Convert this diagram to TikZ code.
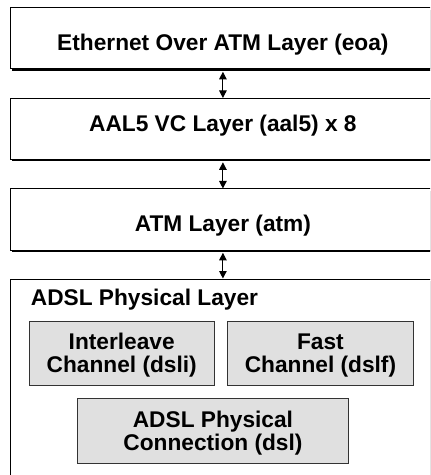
\documentclass[tikz,border=0pt]{standalone}
\usepackage{fontspec}
\setmainfont{Liberation Sans}
\usetikzlibrary{shadows,arrows.meta}
\definecolor{chanfill}{HTML}{E0E0E0}
\definecolor{chanedge}{HTML}{333333}
\begin{document}
\begin{tikzpicture}[x=1bp,y=-1bp,
  every node/.style={font=\fontsize{22.7bp}{23.4bp}\selectfont\bfseries},
  layer/.style={draw=black, line width=0.8bp, fill=white,
    minimum width=426bp, minimum height=61bp, anchor=north west,
    inner sep=0pt, text depth=0pt,
    drop shadow={shadow xshift=2bp, shadow yshift=-2bp, opacity=1, fill=black}},
  channel/.style={draw=chanedge, line width=0.9bp, fill=chanfill,
    anchor=north west, inner sep=0pt, align=center,
    text height=39.7bp, text depth=0pt},
  link/.style={{Triangle[length=7.5bp,width=7.5bp]}-{Triangle[length=7.5bp,width=7.5bp]},
    line width=1bp}
]
\useasboundingbox (0,0) rectangle (430,475);
\clip (0,0) rectangle (430,475);

% protocol stack layers
\node[layer, text height=23.5bp] (eoa) at (9.5,7.5) {Ethernet Over ATM Layer (eoa)};
\node[layer, text height=4.5bp] (aal5) at (9.5,98) {AAL5 VC Layer (aal5) x 8};
\node[layer, text height=24.5bp] (atm) at (9.5,188.5) {ATM Layer (atm)};
\node[layer, minimum height=220bp] (phy) at (9.5,278.5) {};
\node[anchor=base west, inner sep=0pt] (phytitle) at (30.7,305.5) {ADSL Physical Layer};

% channels inside the physical layer
\node[channel, minimum width=185.5bp, minimum height=64bp] (dsli) at (28.5,320.5)
  {Interleave\\Channel (dsli)};
\node[channel, minimum width=186bp, minimum height=64bp] (dslf) at (227,320.5)
  {Fast\\Channel (dslf)};
\node[channel, minimum width=271bp, minimum height=65bp] (dsl) at (77,398)
  {ADSL Physical\\Connection (dsl)};

% links between layers
\draw[link] ([yshift=-2.5bp]eoa.south) -- (aal5.north);
\draw[link] ([yshift=-2.5bp]aal5.south) -- (atm.north);
\draw[link] ([yshift=-2.5bp]atm.south) -- (phy.north);
\end{tikzpicture}
\end{document}
